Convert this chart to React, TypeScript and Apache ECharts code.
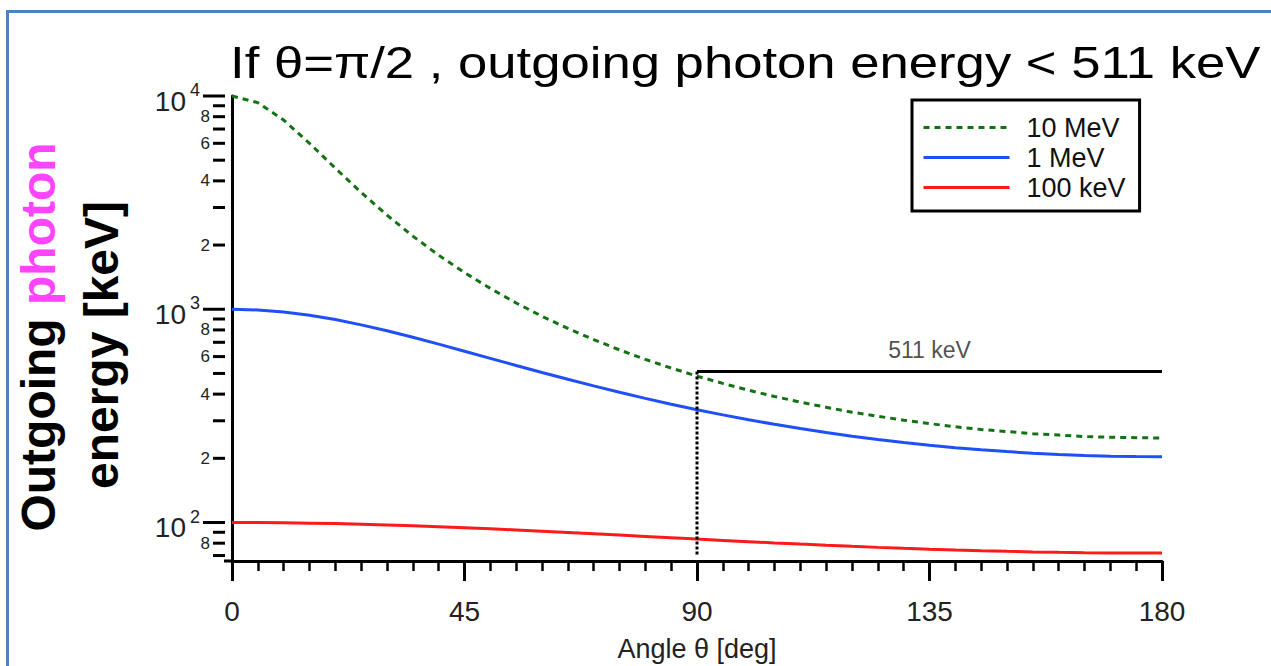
import React, { useEffect, useRef } from 'react';
import * as echarts from 'echarts';

// Scattering angle (deg)
const angles = [0, 5, 10, 15, 20, 25, 30, 35, 40, 45, 50, 55, 60, 65, 70, 75, 80, 85, 90,
  95, 100, 105, 110, 115, 120, 125, 130, 135, 140, 145, 150, 155, 160, 165, 170, 175, 180];

// Outgoing photon energy [keV]
const e10MeV = [10000, 9306, 7709, 6000, 4587, 3529, 2761, 2203, 1793, 1486, 1252, 1070, 927, 813, 721,
  645, 582, 530, 486, 449, 417, 390, 367, 347, 329, 315, 302, 291, 281, 273, 267, 261, 257, 253, 251, 250, 249];
const e1MeV = [1000, 992.6, 971.1, 937.5, 894.4, 845.0, 792.3, 738.6, 686.0, 635.6, 588.6, 545.1, 505.4,
  469.5, 437.1, 408.1, 382.1, 358.9, 338.2, 319.7, 303.3, 288.7, 275.8, 264.3, 254.1, 245.1, 237.3,
  230.4, 224.4, 219.3, 215.0, 211.4, 208.5, 206.3, 204.7, 203.8, 203.5];
const e100keV = [100, 99.93, 99.70, 99.34, 98.83, 98.20, 97.45, 96.58, 95.62, 94.58, 93.47, 92.30, 91.09,
  89.85, 88.59, 87.33, 86.08, 84.84, 83.63, 82.46, 81.32, 80.23, 79.20, 78.22, 77.31, 76.46, 75.67,
  74.96, 74.32, 73.75, 73.25, 72.83, 72.49, 72.22, 72.02, 71.91, 71.87];

const seriesNames = ['10 MeV', '1 MeV', '100 keV'];

// 511 keV reference and theta = 90 deg marker
const ref511 = [[90, 511], [180, 511]];
const ref511LabelAt = [[135, 511]];
const ref511Label = '511 keV';
const theta90 = [[90, 511], [90, 70]];

// Axes
const xMin = 0;
const xMax = 180;
const xInterval = 45;
const yMin = 66;
const yMax = 10000;
const yTickValues = [70, 80, 90, 100, 200, 300, 400, 500, 600, 700, 800, 900, 1000, 2000, 3000, 4000,
  5000, 6000, 7000, 8000, 9000, 10000];
const yTickLabels = ['', '8', '', '10^2', '2', '', '4', '', '6', '', '8', '', '10^3', '2', '', '4', '',
  '6', '', '8', '', '10^4'];

const titleText = 'If θ=π/2 , outgoing photon energy < 511 keV';
const yTitle1a = 'Outgoing ';
const yTitle1b = 'photon';
const yTitle2 = 'energy [keV]';
const xTitle = 'Angle θ [deg]';

const FONT = '"Liberation Sans", Arial, Helvetica, sans-serif';

export default function App() {
  const ref = useRef<HTMLDivElement>(null);

  useEffect(() => {
    if (!ref.current) return;
    const chart = echarts.init(ref.current, undefined, { renderer: 'svg' });
    const pair = (arr: number[]) => angles.map((a, i) => [a, arr[i]]);

    const option: any = {
      animation: false,
      backgroundColor: '#ffffff',
      grid: { left: 232, right: 109, top: 96, bottom: 105, containLabel: false, outerBoundsMode: 'none' },
      legend: {
        data: seriesNames,
        orient: 'vertical',
        left: 912,
        top: 100,
        padding: [14, 14, 10, 10],
        itemWidth: 86,
        itemHeight: 14,
        itemGap: 3,
        borderColor: '#000',
        borderWidth: 3,
        borderRadius: 0,
        backgroundColor: '#fff',
        itemStyle: { opacity: 0 },
        lineStyle: { width: 3 },
        textStyle: { color: '#111', fontSize: 27, fontFamily: FONT, lineHeight: 27, padding: [0, 0, 0, 12] },
      },
      xAxis: {
        type: 'value',
        min: xMin,
        max: xMax,
        interval: xInterval,
        name: xTitle,
        nameLocation: 'middle',
        nameGap: 74,
        nameTextStyle: { color: '#222', fontSize: 27, fontFamily: FONT },
        axisLine: { show: true, lineStyle: { color: '#000', width: 3 } },
        axisTick: { show: true, length: 20, lineStyle: { color: '#000', width: 3 } },
        minorTick: { show: true, splitNumber: 9, length: 10, lineStyle: { color: '#000', width: 2.5 } },
        splitLine: { show: false },
        minorSplitLine: { show: false },
        axisLabel: { color: '#222', fontSize: 28, fontFamily: FONT, margin: 36 },
      },
      yAxis: {
        type: 'log',
        logBase: 10,
        min: yMin,
        max: yMax,
        offset: 7,
        axisLine: { show: true, lineStyle: { color: '#000', width: 3 } },
        axisTick: { show: false },
        axisLabel: { show: false },
        splitLine: { show: false },
      },
      graphic: [
        {
          type: 'rect',
          shape: { x: 7.5, y: 11.5, width: 1400, height: 800 },
          style: { fill: 'none', stroke: '#4f81bd', lineWidth: 3 },
          silent: true,
        },
        {
          type: 'line',
          shape: { x1: 224, y1: 561, x2: 233, y2: 561 },
          style: { stroke: '#000', lineWidth: 3 },
          silent: true,
        },
        {
          type: 'text',
          x: 230,
          y: 62,
          scaleX: 1.17,
          style: { text: titleText, fill: '#000', fontSize: 45, fontFamily: FONT, align: 'left', verticalAlign: 'middle' },
        },
        {
          type: 'text',
          x: 38,
          y: 337,
          rotation: Math.PI / 2,
          style: {
            text: `{a|${yTitle1a}}{p|${yTitle1b}}`,
            align: 'center',
            verticalAlign: 'middle',
            rich: {
              a: { fill: '#000', fontSize: 48, fontWeight: 'bold', fontFamily: FONT },
              p: { fill: '#ff44ff', fontSize: 48, fontWeight: 'bold', fontFamily: FONT },
            },
          },
        },
        {
          type: 'text',
          x: 101,
          y: 345,
          rotation: Math.PI / 2,
          style: {
            text: yTitle2,
            fill: '#000',
            fontSize: 48,
            fontWeight: 'bold',
            fontFamily: FONT,
            align: 'center',
            verticalAlign: 'middle',
          },
        },
      ],
      series: [
        {
          name: seriesNames[0],
          type: 'line',
          data: pair(e10MeV),
          symbol: 'none',
          showSymbol: false,
          lineStyle: { color: '#137313', width: 3, type: [6, 5] },
          itemStyle: { color: '#137313' },
          z: 3,
        },
        {
          name: seriesNames[1],
          type: 'line',
          data: pair(e1MeV),
          symbol: 'none',
          showSymbol: false,
          lineStyle: { color: '#1f4ff7', width: 3 },
          itemStyle: { color: '#1f4ff7' },
          z: 3,
        },
        {
          name: seriesNames[2],
          type: 'line',
          data: pair(e100keV),
          symbol: 'none',
          showSymbol: false,
          lineStyle: { color: '#ff1a1a', width: 3 },
          itemStyle: { color: '#ff1a1a' },
          z: 3,
        },
        {
          name: 'ref511',
          type: 'line',
          data: ref511,
          symbol: 'none',
          showSymbol: false,
          lineStyle: { color: '#000', width: 3 },
          z: 4,
        },
        {
          name: 'ref511Label',
          type: 'scatter',
          data: ref511LabelAt,
          symbolSize: 0,
          silent: true,
          label: {
            show: true,
            position: 'top',
            distance: 10,
            formatter: ref511Label,
            color: '#222',
            fontSize: 23,
            fontFamily: FONT,
          },
          z: 4,
        },
        {
          name: 'theta90',
          type: 'line',
          data: theta90,
          symbol: 'none',
          showSymbol: false,
          lineStyle: { color: '#000', width: 3, type: [3, 2] },
          z: 5,
        },
        {
          name: 'yTicks',
          type: 'custom',
          coordinateSystem: 'cartesian2d',
          clip: false,
          silent: true,
          data: yTickValues.map((v) => [xMin, v]),
          renderItem: (params: any, api: any) => {
            const v = api.value(1);
            const p = api.coord([xMin, v]);
            const axisX = p[0] - 7;
            const lbl = yTickLabels[params.dataIndex];
            const isMajor = lbl.indexOf('^') >= 0;
            const children: any[] = [
              {
                type: 'line',
                shape: { x1: axisX - (isMajor ? 22 : 12), y1: p[1], x2: axisX, y2: p[1] },
                style: { stroke: '#000', lineWidth: 3 },
              },
            ];
            if (isMajor) {
              const [base, exp] = lbl.split('^');
              children.push({
                type: 'text',
                x: axisX - 39,
                y: p[1] + 5,
                style: { text: base, fill: '#222', fontSize: 28, fontFamily: FONT, align: 'right', verticalAlign: 'middle' },
              });
              children.push({
                type: 'text',
                x: axisX - 25,
                y: p[1] - 6,
                style: { text: exp, fill: '#222', fontSize: 18, fontFamily: FONT, align: 'right', verticalAlign: 'middle' },
              });
            } else if (lbl) {
              children.push({
                type: 'text',
                x: axisX - 15,
                y: p[1],
                style: { text: lbl, fill: '#222', fontSize: 17, fontFamily: FONT, align: 'right', verticalAlign: 'middle' },
              });
            }
            return { type: 'group', children };
          },
          z: 6,
        },
      ],
    };

    chart.setOption(option);
    return () => chart.dispose();
  }, []);

  return (
    <div
      ref={ref}
      style={{ position: 'fixed', left: 0, top: 0, width: 1271, height: 666, background: '#fff' }}
    />
  );
}
